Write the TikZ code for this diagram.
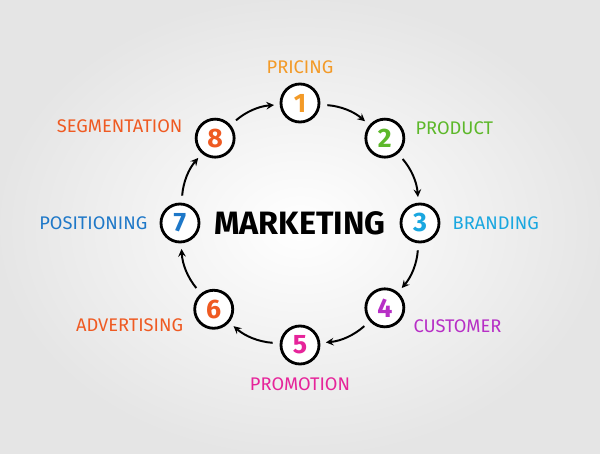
\documentclass[tikz,border=0pt]{standalone}
\usepackage{fontspec}
\setmainfont{Fira Sans}
\usetikzlibrary{positioning}
\definecolor{orangeA}{HTML}{F39A27}
\definecolor{greenA}{HTML}{5DB82A}
\definecolor{cyanA}{HTML}{1AA7E0}
\definecolor{purpleA}{HTML}{B72FC6}
\definecolor{pinkA}{HTML}{E6249A}
\definecolor{redA}{HTML}{EF5A22}
\definecolor{blueA}{HTML}{1E78C8}

\begin{document}
\begin{tikzpicture}[node distance=2.5mm, >=stealth, font=\fontsize{13}{15}\selectfont]
    \tikzstyle{num}=[draw, circle, fill=white, line width=2pt, minimum size=0.95cm,
      inner sep=0pt, font=\fontsize{19}{21}\selectfont\bfseries]
    \tikzstyle{lbl}=[inner sep=0pt]
    \tikzstyle{link}=[->, line width=1.4pt, shorten <=5pt, shorten >=4pt, bend left=18]
    \shade[inner color=white, outer color=black!10] (-7.5,-5.775) rectangle (7.5,5.575);

    \node (mkt) at (0,0) {\fontsize{23}{26}\selectfont\bfseries MARKETING};
    \node[num, text=orangeA] (n1) at (90:3) {1};
    \node[num, text=greenA] (n2) at (45:3) {2};
    \node[num, text=cyanA] (n3) at (0:3) {3};
    \node[num, text=purpleA] (n4) at (-45:3) {4};
    \node[num, text=pinkA] (n5) at (-90:3.05) {5};
    \node[num, text=redA] (n6) at (-135:3.05) {6};
    \node[num, text=blueA] (n7) at (180:3) {7};
    \node[num, text=redA] (n8) at (135:3) {8};

    \node[lbl, text=orangeA, above=0.22cm of n1] (pricing) {PRICING};
    \node[lbl, text=greenA, right=0.25cm of n2, yshift=0.25cm] (product) {PRODUCT};
    \node[lbl, text=cyanA, right=0.3cm of n3] (branding) {BRANDING};
    \node[lbl, text=purpleA, right=0.2cm of n4, yshift=-0.45cm] (customer) {CUSTOMER};
    \node[lbl, text=pinkA, below=0.3cm of n5] (promotion) {PROMOTION};
    \node[lbl, text=redA, left=0.25cm of n6, yshift=-0.4cm] (advertising) {ADVERTISING};
    \node[lbl, text=blueA, left=0.3cm of n7] (positioning) {POSITIONING};
    \node[lbl, text=redA, left=0.3cm of n8, yshift=0.3cm] (segmentation) {SEGMENTATION};

    \draw[link] (n1) to (n2);
    \draw[link] (n2) to (n3);
    \draw[link] (n3) to (n4);
    \draw[link] (n4) to (n5);
    \draw[link] (n5) to (n6);
    \draw[link] (n6) to (n7);
    \draw[link] (n7) to (n8);
    \draw[link] (n8) to (n1);
  \end{tikzpicture}
\end{document}
